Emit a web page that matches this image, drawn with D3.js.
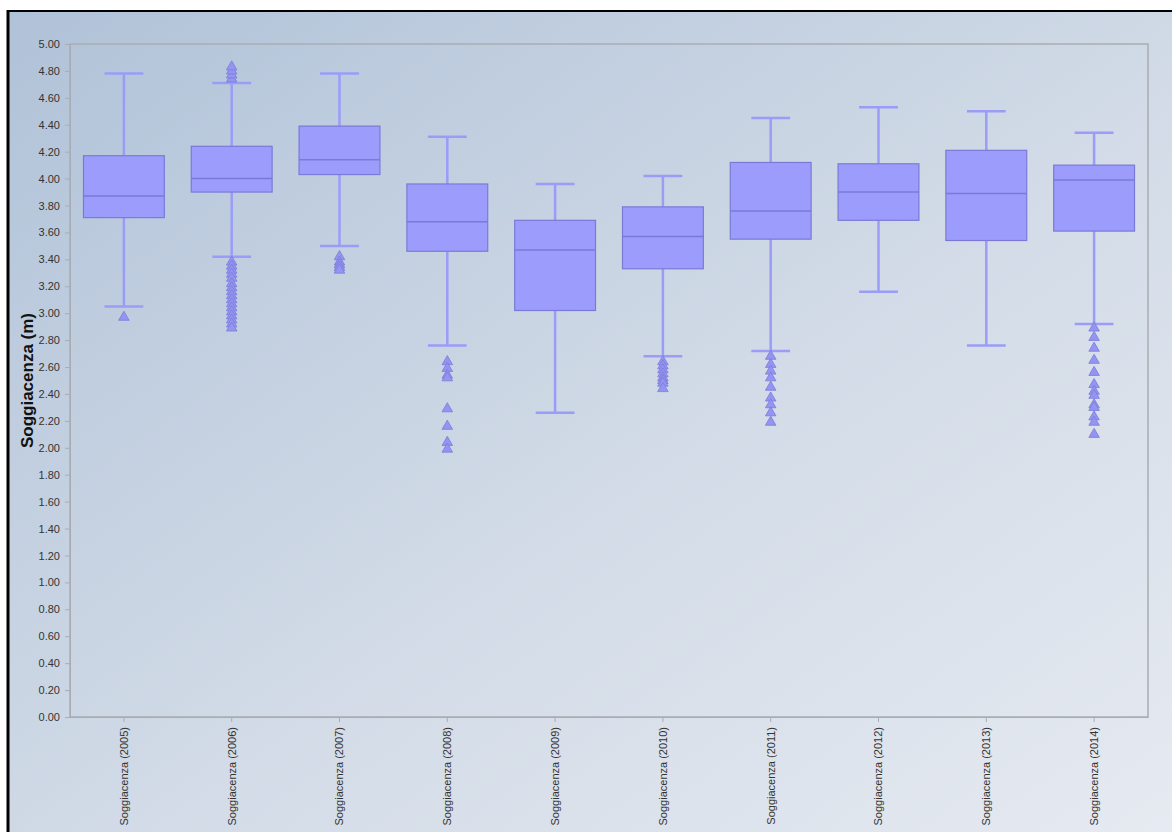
<!DOCTYPE html>
<html><head><meta charset="utf-8">
<script src="https://cdn.jsdelivr.net/npm/d3@7"></script>
<style>
html,body{margin:0;padding:0;background:#fff;}
svg{display:block;font-family:"Liberation Sans",Arial,sans-serif;}
</style></head>
<body>
<svg id="chart" width="1172" height="832"></svg>
<script>
const categories = ["Soggiacenza (2005)","Soggiacenza (2006)","Soggiacenza (2007)","Soggiacenza (2008)","Soggiacenza (2009)","Soggiacenza (2010)","Soggiacenza (2011)","Soggiacenza (2012)","Soggiacenza (2013)","Soggiacenza (2014)"];
const whiskerLow  = [3.05, 3.42, 3.50, 2.76, 2.26, 2.68, 2.72, 3.16, 2.76, 2.92];
const q1          = [3.71, 3.90, 4.03, 3.46, 3.02, 3.33, 3.55, 3.69, 3.54, 3.61];
const medians     = [3.87, 4.00, 4.14, 3.68, 3.47, 3.57, 3.76, 3.90, 3.89, 3.99];
const q3          = [4.17, 4.24, 4.39, 3.96, 3.69, 3.79, 4.12, 4.11, 4.21, 4.10];
const whiskerHigh = [4.78, 4.71, 4.78, 4.31, 3.96, 4.02, 4.45, 4.53, 4.50, 4.34];
const outliers = [
  [2.97],
  [4.74, 4.77, 4.80, 4.83, 3.38, 3.35, 3.32, 3.29, 3.26, 3.22, 3.19, 3.16, 3.13, 3.10, 3.07, 3.04, 3.01, 2.98, 2.95, 2.92, 2.89],
  [3.42, 3.38, 3.36, 3.34, 3.32],
  [2.64, 2.59, 2.54, 2.52, 2.29, 2.16, 2.04, 1.99],
  [],
  [2.64, 2.61, 2.58, 2.55, 2.52, 2.50, 2.48, 2.44],
  [2.68, 2.62, 2.57, 2.52, 2.45, 2.37, 2.32, 2.26, 2.19],
  [],
  [],
  [2.89, 2.82, 2.74, 2.65, 2.56, 2.47, 2.42, 2.39, 2.32, 2.30, 2.23, 2.19, 2.10]
];
const yTicks = d3.range(0, 5.0001, 0.2);
const yTitle = "Soggiacenza (m)";

const svg = d3.select("#chart");
const W = 1172, H = 832;
const m = {left:70, top:44, right:1148, bottom:717};

const defs = svg.append("defs");
const g1 = defs.append("linearGradient").attr("id","bg").attr("x1","0").attr("y1","0").attr("x2","1").attr("y2","1");
g1.append("stop").attr("offset","0%").attr("stop-color","#b0c2d8");
g1.append("stop").attr("offset","55%").attr("stop-color","#d2dbe7");
g1.append("stop").attr("offset","100%").attr("stop-color","#e6eaf1");

svg.append("rect").attr("x",0).attr("y",0).attr("width",W).attr("height",H).attr("fill","#fff");
svg.append("rect").attr("x",8).attr("y",11).attr("width",W-8).attr("height",H-11).attr("fill","url(#bg)");
svg.append("line").attr("x1",7).attr("x2",W).attr("y1",11).attr("y2",11).attr("stroke","#000").attr("stroke-width",2);
svg.append("line").attr("x1",8).attr("x2",8).attr("y1",10).attr("y2",H).attr("stroke","#000").attr("stroke-width",3);

const x = d3.scaleBand().domain(categories).range([m.left, m.right]).paddingInner(0).paddingOuter(0);
const y = d3.scaleLinear().domain([0,5]).range([m.bottom, m.top]);

svg.append("rect").attr("x",m.left).attr("y",m.top).attr("width",m.right-m.left).attr("height",m.bottom-m.top)
  .attr("fill","none").attr("stroke","#a9adb3").attr("stroke-width",1.5);

const yAxis = svg.append("g").attr("transform",`translate(${m.left},0)`)
  .call(d3.axisLeft(y).tickValues(yTicks).tickFormat(d3.format(".2f")).tickSize(5).tickPadding(5));
yAxis.select(".domain").attr("stroke","#a9adb3");
yAxis.selectAll(".tick line").attr("stroke","#a9adb3");
yAxis.selectAll("text").attr("fill","#333").style("font-size","11px");

const xAxis = svg.append("g").attr("transform",`translate(0,${m.bottom})`)
  .call(d3.axisBottom(x).tickSize(5).tickSizeOuter(0));
xAxis.select(".domain").attr("stroke","#a9adb3");
xAxis.selectAll(".tick line").attr("stroke","#a9adb3");
xAxis.selectAll("text").attr("fill","#333").style("font-size","11px")
  .attr("transform","rotate(-90)").attr("text-anchor","end").attr("x",-10).attr("y",0).attr("dy","0.35em");

svg.append("text").attr("transform",`translate(33,${(m.top+m.bottom)/2}) rotate(-90)`)
  .attr("text-anchor","middle").style("font-size","17px").style("font-weight","bold").attr("fill","#111").text(yTitle);

const bw = x.bandwidth()*0.75, cw = x.bandwidth()*0.36;
const whiskerColor = "#9a9cf8", boxFill = "#9c9cfc", boxStroke = "#7a7ad6";

const groups = svg.append("g").selectAll("g").data(categories).join("g")
  .attr("transform", d => `translate(${x(d)+x.bandwidth()/2},0)`);

groups.each(function(d,i){
  const g = d3.select(this);
  g.append("line").attr("x1",0).attr("x2",0).attr("y1",y(whiskerHigh[i])).attr("y2",y(q3[i])).attr("stroke",whiskerColor).attr("stroke-width",2.5);
  g.append("line").attr("x1",0).attr("x2",0).attr("y1",y(q1[i])).attr("y2",y(whiskerLow[i])).attr("stroke",whiskerColor).attr("stroke-width",2.5);
  g.append("line").attr("x1",-cw/2).attr("x2",cw/2).attr("y1",y(whiskerHigh[i])).attr("y2",y(whiskerHigh[i])).attr("stroke",whiskerColor).attr("stroke-width",2.5);
  g.append("line").attr("x1",-cw/2).attr("x2",cw/2).attr("y1",y(whiskerLow[i])).attr("y2",y(whiskerLow[i])).attr("stroke",whiskerColor).attr("stroke-width",2.5);
  g.append("rect").attr("x",-bw/2).attr("width",bw).attr("y",y(q3[i])).attr("height",y(q1[i])-y(q3[i]))
    .attr("fill",boxFill).attr("stroke",boxStroke).attr("stroke-width",1.2);
  g.append("line").attr("x1",-bw/2).attr("x2",bw/2).attr("y1",y(medians[i])).attr("y2",y(medians[i])).attr("stroke",boxStroke).attr("stroke-width",1.5);
  const sym = d3.symbol().type(d3.symbolTriangle).size(48);
  g.selectAll("path.out").data(outliers[i]).join("path").attr("class","out")
    .attr("d",sym).attr("transform",v=>`translate(0,${y(v)})`)
    .attr("fill","#9494f2").attr("stroke","#7b7bd8").attr("stroke-width",0.8);
});
</script>
</body></html>
